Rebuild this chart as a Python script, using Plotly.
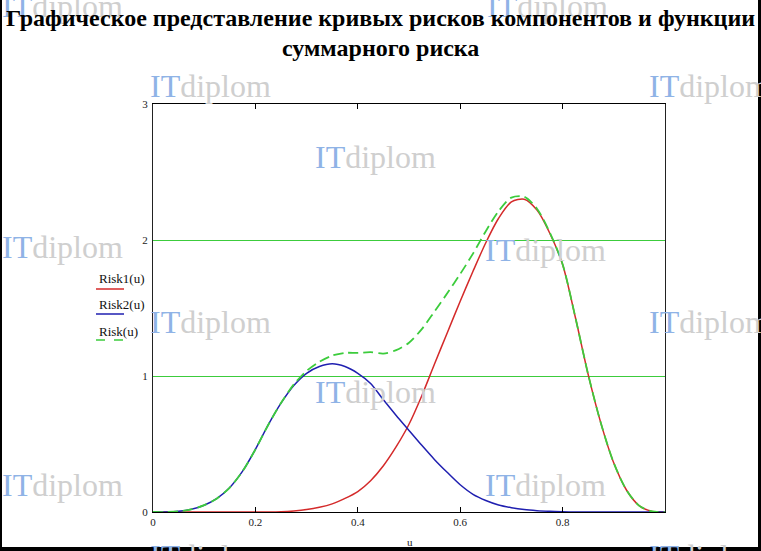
import plotly.graph_objects as go

# values
u = [0.000, 0.025, 0.050, 0.075, 0.100, 0.125, 0.150, 0.175, 0.200, 0.225,
     0.250, 0.275, 0.300, 0.325, 0.350, 0.375, 0.400, 0.425, 0.450, 0.475,
     0.500, 0.525, 0.550, 0.575, 0.600, 0.625, 0.650, 0.675, 0.700, 0.725,
     0.750, 0.775, 0.800, 0.825, 0.850, 0.875, 0.900, 0.925, 0.950, 0.975,
     1.000]
risk1 = [0, 0, 0, 0, 0, 0, 0, 0, 0, 0,
         0.002, 0.008, 0.018, 0.035, 0.06, 0.10, 0.15, 0.23, 0.34, 0.48,
         0.645, 0.855, 1.09, 1.32, 1.55, 1.77, 1.98, 2.16, 2.28, 2.30,
         2.22, 2.05, 1.82, 1.43, 1.01, 0.65, 0.36, 0.16, 0.045, 0.004,
         0]
risk2 = [0, 0, 0.005, 0.02, 0.05, 0.10, 0.18, 0.30, 0.46, 0.64,
         0.80, 0.93, 1.02, 1.07, 1.09, 1.07, 1.02, 0.945, 0.825, 0.71,
         0.60, 0.49, 0.385, 0.29, 0.20, 0.13, 0.085, 0.052, 0.032, 0.018,
         0.01, 0.005, 0.002, 0, 0, 0, 0, 0, 0, 0,
         0]
risk = [0, 0, 0.005, 0.02, 0.05, 0.10, 0.18, 0.30, 0.46, 0.64,
        0.802, 0.938, 1.038, 1.105, 1.15, 1.17, 1.17, 1.175, 1.165, 1.19,
        1.245, 1.345, 1.475, 1.61, 1.75, 1.90, 2.065, 2.212, 2.312, 2.318,
        2.23, 2.055, 1.822, 1.43, 1.01, 0.65, 0.36, 0.16, 0.045, 0.004,
        0]

x_ticks = [0, 0.2, 0.4, 0.6, 0.8]
y_ticks = [0, 1, 2, 3]

title_lines = ["Графическое представление кривых рисков компонентов и функции",
               "суммарного риска"]
legend_names = ["Risk1(u)", "Risk2(u)", "Risk(u)"]

SERIF = "Liberation Serif"
RED = "#d42a2a"
BLUE = "#1f1fb0"
GREEN = "#3ccc3c"

W, H = 761, 551
L, R, T, B = 153, 96, 104, 39
PW, PH = W - L - R, H - T - B


def px(x):
    return (x - L) / PW


def py(y):
    return (H - B - y) / PH


fig = go.Figure()
fig.add_trace(go.Scatter(x=u, y=risk1, mode='lines', name=legend_names[0],
                         line=dict(color=RED, width=1.5, shape='spline', smoothing=0.8)))
fig.add_trace(go.Scatter(x=u, y=risk2, mode='lines', name=legend_names[1],
                         line=dict(color=BLUE, width=1.5, shape='spline', smoothing=0.8)))
fig.add_trace(go.Scatter(x=u, y=risk, mode='lines', name=legend_names[2],
                         line=dict(color=GREEN, width=1.8, dash='10px,5px',
                                   shape='spline', smoothing=0.8)))

annotations = []

# watermark
wm = "<span style='color:#8fb3e6'>IT</span><span style='color:#cfcfcf'>diplom</span>"
wm_pos = [(0, 6), (485, 6), (148, 86), (647, 86), (313, 157),
          (0, 247), (483, 250), (148, 322), (647, 322), (313, 392),
          (0, 485), (483, 485), (148, 556), (647, 556)]
for x, y in wm_pos:
    annotations.append(dict(xref='paper', yref='paper', x=px(x), y=py(y), text=wm,
                            showarrow=False, xanchor='left', yanchor='middle',
                            font=dict(family=SERIF, size=32)))

annotations.append(dict(xref='paper', yref='paper', x=px(410), y=py(542), text="u",
                        showarrow=False, yanchor='middle',
                        font=dict(family=SERIF, size=11, color='#222')))

# custom Mathcad-style legend: name above a short line sample
leg = [(legend_names[0], 278, 289, RED, 'solid'),
       (legend_names[1], 304, 314, BLUE, 'solid'),
       (legend_names[2], 331, 340, GREEN, 'dash')]
shapes = []
for name, ty, ly, col, dash in leg:
    annotations.append(dict(xref='paper', yref='paper', x=px(97), y=py(ty), text=name,
                            showarrow=False, xanchor='left', yanchor='middle',
                            font=dict(family=SERIF, size=13, color='#111')))
    shapes.append(dict(type='line', xref='paper', yref='paper',
                       x0=px(96), x1=px(124), y0=py(ly), y1=py(ly),
                       line=dict(color=col, width=1.5, dash=dash)))

# title, two centred lines on top of the watermark
for text, y in zip(title_lines, [18, 48]):
    annotations.append(dict(xref='paper', yref='paper', x=px(380), y=py(y),
                            text="<b>" + text + "</b>", showarrow=False,
                            xanchor='center', yanchor='middle',
                            font=dict(family=SERIF, size=24, color='black')))

# black frame of the screenshot
for x0, x1, y0, y1 in [(0, 2, 0, H), (758, W, 0, H), (0, W, 547, H)]:
    shapes.append(dict(type='rect', xref='paper', yref='paper', layer='above',
                       x0=px(x0), x1=px(x1), y0=py(y1), y1=py(y0),
                       fillcolor='black', line=dict(width=0)))

fig.update_layout(
    width=W, height=H,
    margin=dict(l=L, r=R, t=T, b=B, autoexpand=False),
    paper_bgcolor='white', plot_bgcolor='white',
    showlegend=False,
    font=dict(family=SERIF, size=11, color='#222'),
    xaxis=dict(range=[0, 1], tickvals=x_ticks, ticktext=[f"{v:g}" for v in x_ticks],
               showgrid=False, zeroline=False, showline=True, linecolor='black',
               linewidth=1, mirror='ticks', ticks='inside', ticklen=5,
               tickcolor='black', tickfont=dict(family=SERIF, size=11, color='#222')),
    yaxis=dict(range=[0, 3], tickvals=y_ticks, showgrid=True, gridcolor=GREEN,
               gridwidth=1, zeroline=False, showline=True, linecolor='#222',
               linewidth=1, mirror=True, ticks='', ticklabelstandoff=2,
               tickfont=dict(family=SERIF, size=11, color='#222')),
    annotations=annotations,
    shapes=shapes,
)

fig.write_html("out.html", config=dict(displayModeBar=False),
               post_script="document.body.style.margin='0';document.body.style.overflow='hidden';")
